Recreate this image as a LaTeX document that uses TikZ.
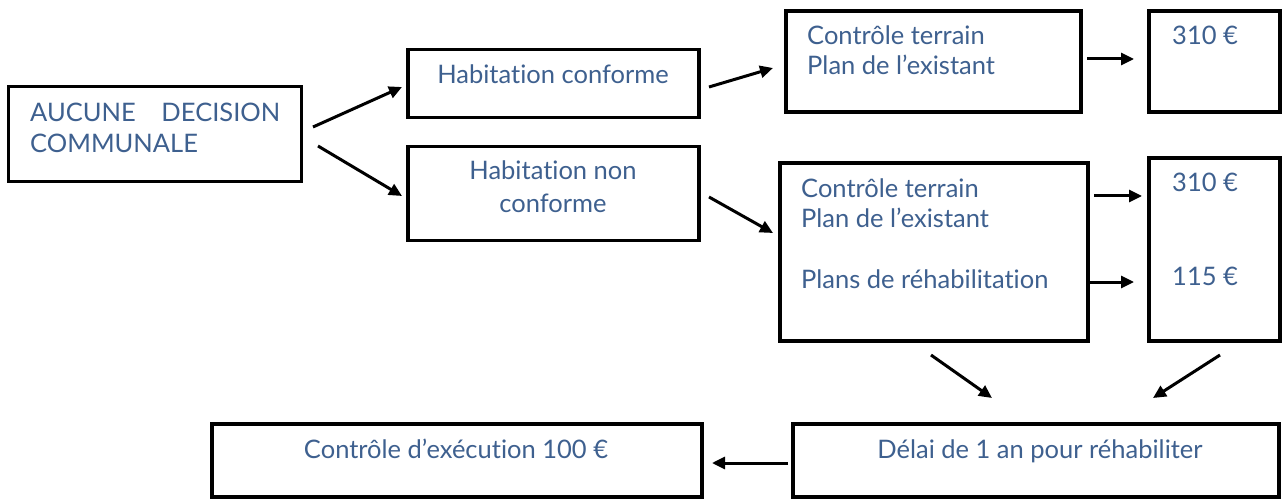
\documentclass[tikz,border=0pt]{standalone}
\usepackage{fontspec}
\setmainfont{Lato}[Ligatures=NoCommon]
\usetikzlibrary{arrows.meta}
\definecolor{txt}{RGB}{62,96,143}
\begin{document}
\begin{tikzpicture}[x=1pt,y=-1pt,
  box/.style={draw=black,line width=3.3pt,inner sep=0pt},
  lbl/.style={anchor=base west,inner sep=0pt,text=txt,font=\fontsize{25.5}{30}\selectfont},
  clbl/.style={lbl,anchor=base},
  arr/.style={-{Triangle[length=13pt,width=12pt]},line width=3pt}]
\useasboundingbox[fill=white] (0,0) rectangle (1286,500);
% boxes
\node[box,minimum width=293pt,minimum height=95pt] (A) at (155,134) {};
\node[box,minimum width=291pt,minimum height=68pt] (HC) at (553.5,83.5) {};
\node[box,minimum width=291pt,minimum height=94pt] (HN) at (553.5,193.5) {};
\node[box,minimum width=295pt,minimum height=101pt] (CT1) at (933.5,61.5) {};
\node[box,minimum width=131pt,minimum height=101pt] (P1) at (1214.5,61.5) {};
\node[box,minimum width=308pt,minimum height=178pt] (CT2) at (934,252) {};
\node[box,minimum width=131pt,minimum height=183pt] (P2) at (1214.5,249.5) {};
\node[box,minimum width=490pt,minimum height=73pt] (E) at (457,460.5) {};
\node[box,minimum width=486pt,minimum height=73pt] (D) at (1036,460.5) {};
% texts
\node[lbl] (tA1) at (30,122) {\makebox[250pt][s]{AUCUNE\hfill DECISION}};
\node[lbl] (tA2) at (30,153) {COMMUNALE};
\node[clbl] (tHC) at (553,84) {Habitation conforme};
\node[clbl] (tHN1) at (553,180) {Habitation non};
\node[clbl] (tHN2) at (553,212) {conforme};
\node[lbl] (tC11) at (807,45) {Contrôle terrain};
\node[lbl] (tC12) at (807,75) {Plan de l’existant};
\node[lbl] (tP1) at (1172,45) {310 €};
\node[lbl] (tC21) at (801,197) {Contrôle terrain};
\node[lbl] (tC22) at (801,227) {Plan de l’existant};
\node[lbl] (tC23) at (801,288) {Plans de réhabilitation};
\node[lbl] (tP21) at (1172,192) {310 €};
\node[lbl] (tP22) at (1172,285) {115 €};
\node[clbl] (tE) at (456,458) {Contrôle d’exécution 100 €};
\node[clbl] (tD) at (1040,458) {Délai de 1 an pour réhabiliter};
% arrow end points
\coordinate (a1s) at (313,127); \coordinate (a1e) at (402,87);
\coordinate (a2s) at (318,146); \coordinate (a2e) at (402,196);
\coordinate (a3s) at (709,87);  \coordinate (a3e) at (773,68);
\coordinate (a4s) at (709,197); \coordinate (a4e) at (773,233);
\coordinate (a5s) at (1087,59); \coordinate (a5e) at (1134,59);
\coordinate (a6s) at (1094,196); \coordinate (a6e) at (1142,196);
\coordinate (a7s) at (1087,282); \coordinate (a7e) at (1134,282);
\coordinate (a8s) at (931,355); \coordinate (a8e) at (992,398);
\coordinate (a9s) at (1220,355); \coordinate (a9e) at (1153,398);
\coordinate (a10s) at (788,463); \coordinate (a10e) at (712,463);
\draw[arr] (a1s) -- (a1e);
\draw[arr] (a2s) -- (a2e);
\draw[arr] (a3s) -- (a3e);
\draw[arr] (a4s) -- (a4e);
\draw[arr] (a5s) -- (a5e);
\draw[arr] (a6s) -- (a6e);
\draw[arr] (a7s) -- (a7e);
\draw[arr] (a8s) -- (a8e);
\draw[arr] (a9s) -- (a9e);
\draw[arr] (a10s) -- (a10e);
\end{tikzpicture}
\end{document}
